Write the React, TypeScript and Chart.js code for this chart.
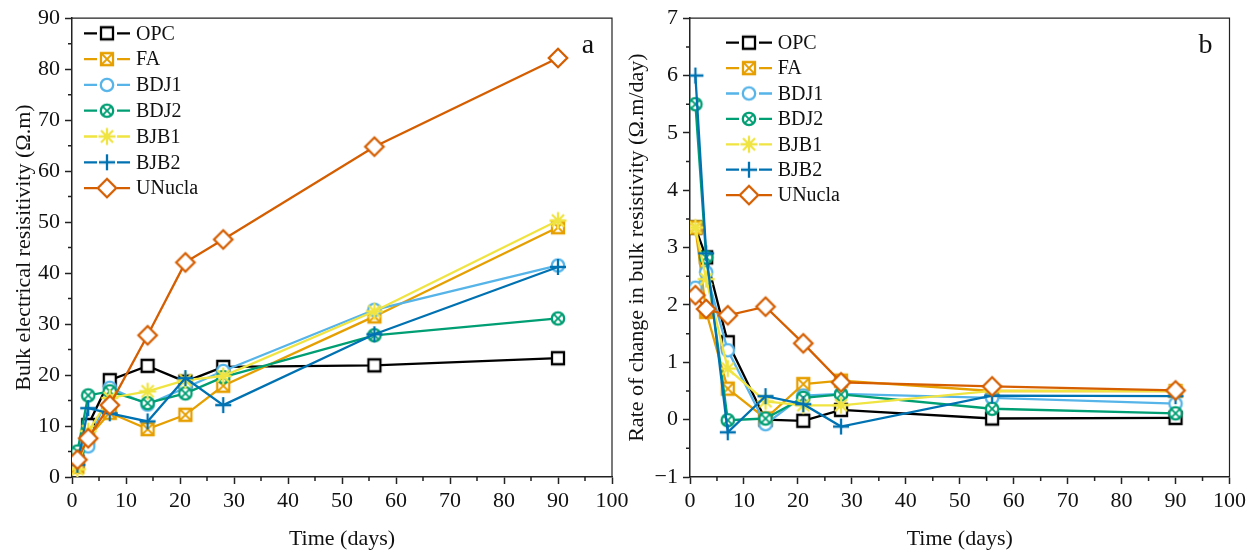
import React, { useEffect, useRef } from 'react';
import { Chart, registerables } from 'chart.js';

Chart.register(...registerables);

const FONT = "'Liberation Serif', 'Times New Roman', Times, serif";

// ---------- data ----------
const days = [1, 3, 7, 14, 21, 28, 56, 90];
const seriesNames = ['OPC', 'FA', 'BDJ1', 'BDJ2', 'BJB1', 'BJB2', 'UNucla'];
const seriesColors = ['#000000', '#E69F00', '#56B4E9', '#009E73', '#F0E442', '#0072B2', '#D55E00'];
const seriesMarkers = ['square', 'squareX', 'circle', 'circleX', 'star', 'plus', 'diamond'];

// Panel a: bulk electrical resistivity (Ω.m)
const opcA = [3.0, 10.2, 19.0, 21.8, 18.7, 21.6, 21.9, 23.3];
const faA = [2.0, 7.7, 12.6, 9.4, 12.2, 17.9, 31.5, 49.0];
const bdj1A = [3.5, 6.0, 17.5, 14.2, 17.5, 20.8, 32.8, 41.5];
const bdj2A = [5.0, 16.0, 16.8, 14.5, 16.4, 19.6, 27.8, 31.1];
const bjb1A = [1.5, 9.0, 15.5, 16.8, 19.0, 19.8, 32.5, 50.3];
const bjb2A = [2.4, 13.5, 12.5, 10.9, 19.4, 14.1, 28.0, 41.2];
const unuclaA = [3.4, 7.6, 14.1, 27.8, 42.1, 46.6, 64.8, 82.2];

// Panel b: rate of change in bulk resistivity (Ω.m/day)
const opcB = [3.35, 2.83, 1.35, 0.0, -0.02, 0.17, 0.02, 0.03];
const faB = [3.35, 1.88, 0.54, 0.02, 0.62, 0.68, 0.5, 0.5];
const bdj1B = [2.3, 2.57, 1.21, -0.08, 0.42, 0.45, 0.38, 0.28];
const bdj2B = [5.5, 2.83, -0.01, 0.02, 0.38, 0.44, 0.19, 0.11];
const bjb1B = [3.35, 2.45, 0.89, 0.32, 0.25, 0.25, 0.5, 0.5];
const bjb2B = [6.0, 2.9, -0.22, 0.41, 0.27, -0.12, 0.42, 0.41];
const unuclaB = [2.17, 1.93, 1.82, 1.97, 1.33, 0.65, 0.58, 0.51];

const seriesA = [opcA, faA, bdj1A, bdj2A, bjb1A, bjb2A, unuclaA];
const seriesB = [opcB, faB, bdj1B, bdj2B, bjb1B, bjb2B, unuclaB];

const xTitle = 'Time (days)';
const yTitleA = 'Bulk electrical resisitivity (Ω.m)';
const yTitleB = 'Rate of change in bulk resistivity (Ω.m/day)';

// ---------- markers ----------
function makeMarker(kind: string, color: string): HTMLCanvasElement {
  const S = 24;
  const c = document.createElement('canvas');
  c.width = S;
  c.height = S;
  const ctx = c.getContext('2d')!;
  const m = S / 2;
  ctx.strokeStyle = color;
  ctx.fillStyle = '#ffffff';
  ctx.lineWidth = 2.3;
  ctx.lineCap = 'butt';
  const line = (x1: number, y1: number, x2: number, y2: number) => {
    ctx.moveTo(x1, y1);
    ctx.lineTo(x2, y2);
  };
  if (kind === 'square' || kind === 'squareX') {
    const h = 6;
    ctx.beginPath();
    ctx.rect(m - h, m - h, 2 * h, 2 * h);
    ctx.fill();
    ctx.stroke();
    if (kind === 'squareX') {
      ctx.beginPath();
      line(m - h, m - h, m + h, m + h);
      line(m + h, m - h, m - h, m + h);
      ctx.lineWidth = 1.8;
      ctx.stroke();
    }
  } else if (kind === 'circle' || kind === 'circleX') {
    const r = 6.2;
    ctx.beginPath();
    ctx.arc(m, m, r, 0, Math.PI * 2);
    ctx.fill();
    ctx.stroke();
    if (kind === 'circleX') {
      const d = r * Math.SQRT1_2;
      ctx.beginPath();
      line(m - d, m - d, m + d, m + d);
      line(m + d, m - d, m - d, m + d);
      ctx.lineWidth = 1.8;
      ctx.stroke();
    }
  } else if (kind === 'star') {
    const r = 8.5;
    const d = r * Math.SQRT1_2;
    ctx.beginPath();
    line(m - r, m, m + r, m);
    line(m, m - r, m, m + r);
    line(m - d, m - d, m + d, m + d);
    line(m + d, m - d, m - d, m + d);
    ctx.stroke();
  } else if (kind === 'plus') {
    const r = 8;
    ctx.beginPath();
    line(m - r, m, m + r, m);
    line(m, m - r, m, m + r);
    ctx.stroke();
  } else if (kind === 'diamond') {
    const r = 9.2;
    ctx.beginPath();
    ctx.moveTo(m, m - r);
    ctx.lineTo(m + r, m);
    ctx.lineTo(m, m + r);
    ctx.lineTo(m - r, m);
    ctx.closePath();
    ctx.fill();
    ctx.stroke();
  }
  return c;
}

// ---------- plugins ----------
const legendPlugin = {
  id: 'customLegend',
  afterDraw(chart: any, _args: any, opts: any) {
    const { x, y0, dy, textX } = opts;
    const ctx = chart.ctx;
    ctx.save();
    chart.data.datasets.forEach((ds: any, i: number) => {
      const y = y0 + i * dy;
      ctx.strokeStyle = ds.borderColor;
      ctx.lineWidth = 2.3;
      ctx.beginPath();
      ctx.moveTo(x - 23, y);
      ctx.lineTo(x - 10, y);
      ctx.moveTo(x + 10, y);
      ctx.lineTo(x + 23, y);
      ctx.stroke();
      const img = ds.pointStyle as HTMLCanvasElement;
      ctx.drawImage(img, x - img.width / 2, y - img.height / 2);
      ctx.fillStyle = '#111';
      ctx.font = `20px ${FONT}`;
      ctx.textBaseline = 'middle';
      ctx.textAlign = 'left';
      ctx.fillText(ds.label, textX, y + 1);
    });
    ctx.restore();
  },
};

const framePlugin = {
  id: 'frameTicks',
  afterDraw(chart: any, _args: any, opts: any) {
    const ctx = chart.ctx;
    const { left, right, top, bottom } = chart.chartArea;
    const xs = chart.scales.x;
    const ys = chart.scales.y;
    ctx.save();
    ctx.strokeStyle = '#222';
    ctx.lineWidth = 1.2;
    ctx.beginPath();
    ctx.moveTo(left, top);
    ctx.lineTo(right, top);
    ctx.lineTo(right, bottom);
    ctx.stroke();
    ctx.lineWidth = 1.5;
    ctx.beginPath();
    (opts.xMinor as number[]).forEach((v) => {
      const px = xs.getPixelForValue(v);
      ctx.moveTo(px, bottom);
      ctx.lineTo(px, bottom + 4);
    });
    (opts.yMinor as number[]).forEach((v) => {
      const py = ys.getPixelForValue(v);
      ctx.moveTo(left, py);
      ctx.lineTo(left - 4, py);
    });
    ctx.stroke();
    // panel label
    ctx.fillStyle = '#111';
    ctx.font = `28px ${FONT}`;
    ctx.textAlign = 'center';
    ctx.textBaseline = 'alphabetic';
    ctx.fillText(opts.label, opts.labelX, opts.labelY);
    ctx.restore();
  },
};

function minorValues(start: number, end: number, step: number): number[] {
  const out: number[] = [];
  for (let v = start; v < end; v += step) out.push(Math.round(v * 100) / 100);
  return out;
}

interface PanelCfg {
  series: number[][];
  yMin: number;
  yMax: number;
  yStep: number;
  yTitle: string;
  yTitlePad: number;
  yWidth: number;
  padRight: number;
  legend: any;
  frame: any;
}

function buildConfig(p: PanelCfg): any {
  const tickFont = { family: FONT, size: 22 };
  return {
    type: 'line',
    data: {
      datasets: seriesNames.map((name, i) => ({
        label: name,
        data: days.map((d, j) => ({ x: d, y: p.series[i][j] })),
        borderColor: seriesColors[i],
        backgroundColor: seriesColors[i],
        borderWidth: 2.3,
        pointStyle: makeMarker(seriesMarkers[i], seriesColors[i]),
        pointRadius: 7,
        pointHoverRadius: 7,
        tension: 0,
        fill: false,
        order: seriesNames.length - 1 - i,
      })),
    },
    options: {
      responsive: false,
      animation: false,
      devicePixelRatio: 1,
      events: [],
      layout: { padding: { left: 0, top: 17.5, right: p.padRight, bottom: 0 } },
      plugins: {
        legend: { display: false },
        tooltip: { enabled: false },
        customLegend: p.legend,
        frameTicks: p.frame,
      },
      scales: {
        x: {
          type: 'linear',
          min: 0,
          max: 100,
          ticks: { stepSize: 10, font: tickFont, color: '#111', padding: 4, maxRotation: 0, autoSkip: false },
          grid: {
            display: true,
            drawOnChartArea: false,
            drawTicks: true,
            tickLength: 7,
            tickWidth: 1.5,
            tickColor: '#222',
          },
          border: { display: true, color: '#222', width: 1.5 },
          title: { display: true, text: xTitle, font: tickFont, color: '#111', padding: { top: 0, bottom: 0 } },
          afterFit: (s: any) => {
            s.height = 75;
          },
        },
        y: {
          type: 'linear',
          min: p.yMin,
          max: p.yMax,
          ticks: {
            stepSize: p.yStep,
            font: tickFont,
            color: '#111',
            padding: 5,
            autoSkip: false,
            callback: (v: number) => (v < 0 ? '\u2212' + Math.abs(v) : String(v)),
          },
          grid: {
            display: true,
            drawOnChartArea: false,
            drawTicks: true,
            tickLength: 7,
            tickWidth: 1.5,
            tickColor: '#222',
          },
          border: { display: true, color: '#222', width: 1.5 },
          title: { display: true, text: p.yTitle, font: tickFont, color: '#111', padding: { top: p.yTitlePad, bottom: 0 } },
          afterFit: (s: any) => {
            s.width = p.yWidth;
          },
        },
      },
    },
    plugins: [legendPlugin, framePlugin],
  };
}

const W_A = 640;
const W_B = 635;
const LEFT_B = 620;
const H = 552;

export default function App() {
  const refA = useRef<HTMLCanvasElement>(null);
  const refB = useRef<HTMLCanvasElement>(null);

  useEffect(() => {
    const chartA = new Chart(
      refA.current!,
      buildConfig({
        series: seriesA,
        yMin: 0,
        yMax: 90,
        yStep: 10,
        yTitle: yTitleA,
        yTitlePad: 11,
        yWidth: 72,
        padRight: W_A - 612,
        legend: { x: 107, y0: 33.3, dy: 25.8, textX: 136 },
        frame: { xMinor: minorValues(5, 100, 10), yMinor: minorValues(5, 90, 10), label: 'a', labelX: 588, labelY: 53 },
      })
    );
    const chartB = new Chart(
      refB.current!,
      buildConfig({
        series: seriesB,
        yMin: -1,
        yMax: 7,
        yStep: 1,
        yTitle: yTitleB,
        yTitlePad: 4,
        yWidth: 70,
        padRight: W_B - 609.5,
        legend: { x: 749 - LEFT_B, y0: 42.7, dy: 25.4, textX: 777.7 - LEFT_B },
        frame: { xMinor: minorValues(5, 100, 10), yMinor: minorValues(-0.5, 7, 1), label: 'b', labelX: 1205.5 - LEFT_B, labelY: 53 },
      })
    );
    return () => {
      chartA.destroy();
      chartB.destroy();
    };
  }, []);

  return (
    <div style={{ position: 'fixed', left: 0, top: 0, width: 1255, height: H, background: '#fff' }}>
      <canvas ref={refA} width={W_A} height={H} style={{ position: 'absolute', left: 0, top: 0, width: W_A, height: H }} />
      <canvas ref={refB} width={W_B} height={H} style={{ position: 'absolute', left: LEFT_B, top: 0, width: W_B, height: H }} />
    </div>
  );
}
